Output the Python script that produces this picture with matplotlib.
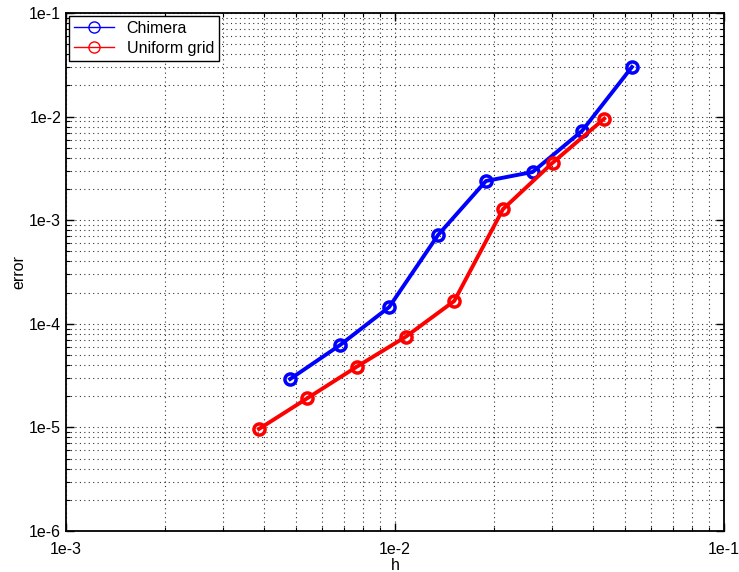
import matplotlib
matplotlib.use("Agg")
import matplotlib.pyplot as plt
from matplotlib.ticker import FixedLocator, FixedFormatter, LogLocator, NullFormatter

plt.rcParams['font.family'] = ['Liberation Sans', 'DejaVu Sans']

chimera_h = [0.0048, 0.00681, 0.0096, 0.01352, 0.0189, 0.0262, 0.037, 0.0525]
chimera_err = [2.93e-5, 6.24e-5, 1.45e-4, 7.2e-4, 2.39e-3, 2.92e-3, 7.26e-3, 3.01e-2]
uniform_h = [0.00386, 0.00541, 0.00765, 0.01078, 0.01514, 0.0213, 0.03015, 0.04325]
uniform_err = [9.66e-6, 1.91e-5, 3.85e-5, 7.5e-5, 1.66e-4, 1.28e-3, 3.59e-3, 9.55e-3]

x_ticks = [1e-3, 1e-2, 1e-1]
x_labels = ['1e-3', '1e-2', '1e-1']
y_ticks = [1e-6, 1e-5, 1e-4, 1e-3, 1e-2, 1e-1]
y_labels = ['1e-6', '1e-5', '1e-4', '1e-3', '1e-2', '1e-1']

fig = plt.figure(figsize=(7.39, 5.72), dpi=100)
ax = fig.add_axes([66/739, 41/572, 658/739, 518/572])

ax.plot(chimera_h, chimera_err, '-o', color='#0000ff', lw=2.8, ms=8,
        mfc='none', mew=2.5, label='Chimera')
ax.plot(uniform_h, uniform_err, '-o', color='#ff0000', lw=2.8, ms=8,
        mfc='none', mew=2.5, label='Uniform grid')

ax.set_xscale('log')
ax.set_yscale('log')
ax.set_xlim(1e-3, 1e-1)
ax.set_ylim(1e-6, 1e-1)

ax.xaxis.set_major_locator(FixedLocator(x_ticks))
ax.xaxis.set_major_formatter(FixedFormatter(x_labels))
ax.yaxis.set_major_locator(FixedLocator(y_ticks))
ax.yaxis.set_major_formatter(FixedFormatter(y_labels))
ax.xaxis.set_minor_locator(LogLocator(base=10, subs=range(2, 10)))
ax.yaxis.set_minor_locator(LogLocator(base=10, subs=range(2, 10)))
ax.xaxis.set_minor_formatter(NullFormatter())
ax.yaxis.set_minor_formatter(NullFormatter())

ax.grid(True, which='both', linestyle=(0, (1, 3)), color='black', lw=0.8, alpha=0.8)
ax.tick_params(which='both', direction='in', top=True, right=True, labelsize=11.5)
ax.tick_params(which='major', length=6, width=1)
ax.tick_params(which='minor', length=3, width=0.8)
ax.tick_params(axis='x', pad=8)
for s in ax.spines.values():
    s.set_linewidth(1.3)

ax.set_xlabel('h', fontsize=11.5, labelpad=1)
ax.set_ylabel('error', fontsize=11.5, labelpad=2)

leg = ax.legend(loc='upper left', fontsize=11.5, fancybox=False, framealpha=1,
                edgecolor='black', borderaxespad=0.2, handlelength=2.5,
                borderpad=0.3, labelspacing=0.3)
leg.get_frame().set_linewidth(1.0)
for line in leg.get_lines():
    line.set_linewidth(1.0)
    line.set_markeredgewidth(1.0)

fig.savefig('out.png', dpi=100)
